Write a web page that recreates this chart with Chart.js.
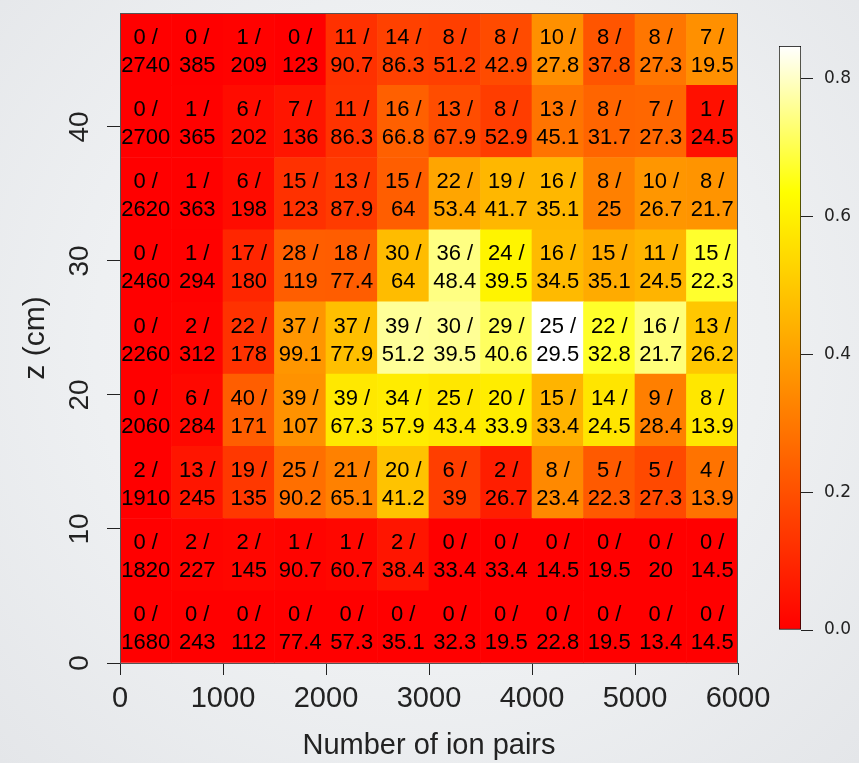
<!DOCTYPE html>
<html>
<head>
<meta charset="utf-8">
<title>Ion pairs vs z</title>
<script src="https://cdn.jsdelivr.net/npm/chart.js@4.4.1/dist/chart.umd.min.js"></script>
<style>
  html, body {
    margin: 0;
    padding: 0;
  }
  body {
    width: 859px;
    height: 763px;
    overflow: hidden;
    position: relative;
    background: radial-gradient(ellipse at 50% 45%, #f6f7f8 0%, #eef0f2 55%, #e4e6e9 100%);
  }
  #heatmap {
    position: absolute;
    left: 0;
    top: 0;
  }
  #colorbar {
    position: absolute;
    left: 760px;
    top: 0;
  }
</style>
</head>
<body>
<canvas id="heatmap" width="859" height="763"></canvas>
<canvas id="colorbar" width="99" height="763"></canvas>
<script>
// column centres (number of ion pairs) and row edges (z in cm)
const ionPairCenters = [250, 750, 1250, 1750, 2250, 2750, 3250, 3750, 4250, 4750, 5250, 5750];
const zEdges = [0, 5.39, 10.78, 16.17, 21.56, 26.94, 32.33, 37.72, 43.11, 48.5];

const xTicks = [0, 1000, 2000, 3000, 4000, 5000, 6000];
const zTicks = [0, 10, 20, 30, 40];
const colorTicks = [0, 0.2, 0.4, 0.6, 0.8];

// counts / expected, one pair of arrays per row, bottom row first
const countsRow1 = [0, 0, 0, 0, 0, 0, 0, 0, 0, 0, 0, 0];
const expectedRow1 = [1680, 243, 112, 77.4, 57.3, 35.1, 32.3, 19.5, 22.8, 19.5, 13.4, 14.5];
const countsRow2 = [0, 2, 2, 1, 1, 2, 0, 0, 0, 0, 0, 0];
const expectedRow2 = [1820, 227, 145, 90.7, 60.7, 38.4, 33.4, 33.4, 14.5, 19.5, 20, 14.5];
const countsRow3 = [2, 13, 19, 25, 21, 20, 6, 2, 8, 5, 5, 4];
const expectedRow3 = [1910, 245, 135, 90.2, 65.1, 41.2, 39, 26.7, 23.4, 22.3, 27.3, 13.9];
const countsRow4 = [0, 6, 40, 39, 39, 34, 25, 20, 15, 14, 9, 8];
const expectedRow4 = [2060, 284, 171, 107, 67.3, 57.9, 43.4, 33.9, 33.4, 24.5, 28.4, 13.9];
const countsRow5 = [0, 2, 22, 37, 37, 39, 30, 29, 25, 22, 16, 13];
const expectedRow5 = [2260, 312, 178, 99.1, 77.9, 51.2, 39.5, 40.6, 29.5, 32.8, 21.7, 26.2];
const countsRow6 = [0, 1, 17, 28, 18, 30, 36, 24, 16, 15, 11, 15];
const expectedRow6 = [2460, 294, 180, 119, 77.4, 64, 48.4, 39.5, 34.5, 35.1, 24.5, 22.3];
const countsRow7 = [0, 1, 6, 15, 13, 15, 22, 19, 16, 8, 10, 8];
const expectedRow7 = [2620, 363, 198, 123, 87.9, 64, 53.4, 41.7, 35.1, 25, 26.7, 21.7];
const countsRow8 = [0, 1, 6, 7, 11, 16, 13, 8, 13, 8, 7, 1];
const expectedRow8 = [2700, 365, 202, 136, 86.3, 66.8, 67.9, 52.9, 45.1, 31.7, 27.3, 24.5];
const countsRow9 = [0, 0, 1, 0, 11, 14, 8, 8, 10, 8, 8, 7];
const expectedRow9 = [2740, 385, 209, 123, 90.7, 86.3, 51.2, 42.9, 27.8, 37.8, 27.3, 19.5];

const rows = [
  [countsRow1, expectedRow1],
  [countsRow2, expectedRow2],
  [countsRow3, expectedRow3],
  [countsRow4, expectedRow4],
  [countsRow5, expectedRow5],
  [countsRow6, expectedRow6],
  [countsRow7, expectedRow7],
  [countsRow8, expectedRow8],
  [countsRow9, expectedRow9],
];

const ratios = rows.map(([counts, expected]) => counts.map((c, i) => c / expected[i]));
const ratioMax = Math.max(...ratios.flat());

const TICK_COLOR = '#222';
const FONT = '"Liberation Sans", Arial, Helvetica, sans-serif';

// R heat.colors: red -> yellow over the first 3/4, then yellow -> white
function heatColor(value) {
  const t = Math.min(Math.max(value / ratioMax, 0), 1);
  if (t <= 0.75) {
    const g = Math.round(255 * t / 0.75);
    return `rgb(255,${g},0)`;
  }
  const b = Math.round(255 * (t - 0.75) / 0.25);
  return `rgb(255,255,${b})`;
}

// the axes should not push the plot area in to make room for end labels
function noEdgePadding(axis) {
  axis.paddingTop = 0;
  axis.paddingBottom = 0;
  axis.paddingLeft = 0;
  axis.paddingRight = 0;
}

const datasets = rows.map(([counts, expected], r) => ({
  label: `row ${r + 1}`,
  data: ionPairCenters.map((x) => ({ x, y: [zEdges[r], zEdges[r + 1]] })),
  backgroundColor: ratios[r].map(heatColor),
  borderWidth: 0,
  barPercentage: 1,
  categoryPercentage: 1,
  counts,
  expected,
}));

const cellLabels = {
  id: 'cellLabels',
  afterDatasetsDraw(chart) {
    const { ctx } = chart;
    ctx.save();
    ctx.font = `22px ${FONT}`;
    ctx.fillStyle = '#000';
    ctx.textAlign = 'center';
    ctx.textBaseline = 'alphabetic';
    chart.data.datasets.forEach((ds, d) => {
      const meta = chart.getDatasetMeta(d);
      meta.data.forEach((bar, i) => {
        const cy = (bar.y + bar.base) / 2;
        ctx.fillText(`${ds.counts[i]} /`, bar.x, cy - 5.5);
        ctx.fillText(String(ds.expected[i]), bar.x, cy + 22.5);
      });
    });
    ctx.restore();
  },
};

const frameBox = {
  id: 'frameBox',
  afterDatasetsDraw(chart) {
    const { ctx, chartArea } = chart;
    ctx.save();
    ctx.strokeStyle = '#555';
    ctx.lineWidth = 1;
    ctx.strokeRect(chartArea.left + 0.5, chartArea.top + 0.5,
      chartArea.right - chartArea.left - 1, chartArea.bottom - chartArea.top);
    ctx.restore();
  },
};

new Chart(document.getElementById('heatmap'), {
  type: 'bar',
  data: { datasets },
  plugins: [cellLabels, frameBox],
  options: {
    responsive: false,
    animation: false,
    devicePixelRatio: 1,
    layout: { padding: { top: 13, right: 121, left: 0, bottom: 0 } },
    plugins: {
      legend: { display: false },
      tooltip: { enabled: false },
    },
    scales: {
      x: {
        type: 'linear',
        min: 0,
        max: 6000,
        stacked: true,
        offset: false,
        afterBuildTicks: (axis) => { axis.ticks = xTicks.map((v) => ({ value: v })); },
        afterFit: (axis) => { axis.height = 100; noEdgePadding(axis); },
        ticks: {
          color: TICK_COLOR,
          font: { family: FONT, size: 29 },
          padding: 7,
          maxRotation: 0,
          autoSkip: false,
          callback: (v) => String(v),
        },
        grid: {
          offset: false,
          drawOnChartArea: false,
          tickLength: 12,
          color: TICK_COLOR,
        },
        border: { display: false },
        title: {
          display: true,
          text: 'Number of ion pairs',
          color: TICK_COLOR,
          font: { family: FONT, size: 29 },
          padding: { top: 0, bottom: 0 },
        },
      },
      y: {
        type: 'linear',
        min: 0,
        max: 48.5,
        stacked: false,
        afterBuildTicks: (axis) => { axis.ticks = zTicks.map((v) => ({ value: v })); },
        afterFit: (axis) => { axis.width = 120; noEdgePadding(axis); },
        ticks: {
          color: TICK_COLOR,
          font: { family: FONT, size: 28 },
          padding: 11,
          minRotation: 90,
          maxRotation: 90,
          crossAlign: 'center',
          autoSkip: false,
          callback: (v) => String(v),
        },
        grid: {
          drawOnChartArea: false,
          tickLength: 13,
          color: TICK_COLOR,
        },
        border: { display: false },
        title: {
          display: true,
          text: 'z (cm)',
          color: TICK_COLOR,
          font: { family: FONT, size: 30 },
          padding: { top: 18, bottom: 0 },
        },
      },
    },
  },
});

// colour key on the right
new Chart(document.getElementById('colorbar'), {
  type: 'bar',
  data: {
    labels: [''],
    datasets: [{
      data: [[0, ratioMax]],
      backgroundColor: (c) => {
        const { ctx, chartArea } = c.chart;
        if (!chartArea) return '#ff0000';
        const g = ctx.createLinearGradient(0, chartArea.bottom, 0, chartArea.top);
        g.addColorStop(0, '#ff0000');
        g.addColorStop(0.75, '#ffff00');
        g.addColorStop(1, '#ffffff');
        return g;
      },
      borderColor: '#000',
      borderWidth: 1,
      borderSkipped: false,
      barPercentage: 1,
      categoryPercentage: 1,
    }],
  },
  options: {
    responsive: false,
    animation: false,
    devicePixelRatio: 1,
    layout: { padding: { top: 46, bottom: 133, left: 19, right: 0 } },
    plugins: {
      legend: { display: false },
      tooltip: { enabled: false },
    },
    scales: {
      x: { display: false },
      y: {
        position: 'right',
        min: 0,
        max: ratioMax,
        afterBuildTicks: (axis) => { axis.ticks = colorTicks.map((v) => ({ value: v })); },
        afterFit: (axis) => { axis.width = 58; noEdgePadding(axis); },
        ticks: {
          color: TICK_COLOR,
          font: { family: '"DejaVu Sans", sans-serif', size: 17 },
          padding: 11,
          callback: (v) => v.toFixed(1),
        },
        grid: {
          drawOnChartArea: false,
          tickLength: 12,
          color: TICK_COLOR,
        },
        border: { display: false },
      },
    },
  },
});
</script>
</body>
</html>
